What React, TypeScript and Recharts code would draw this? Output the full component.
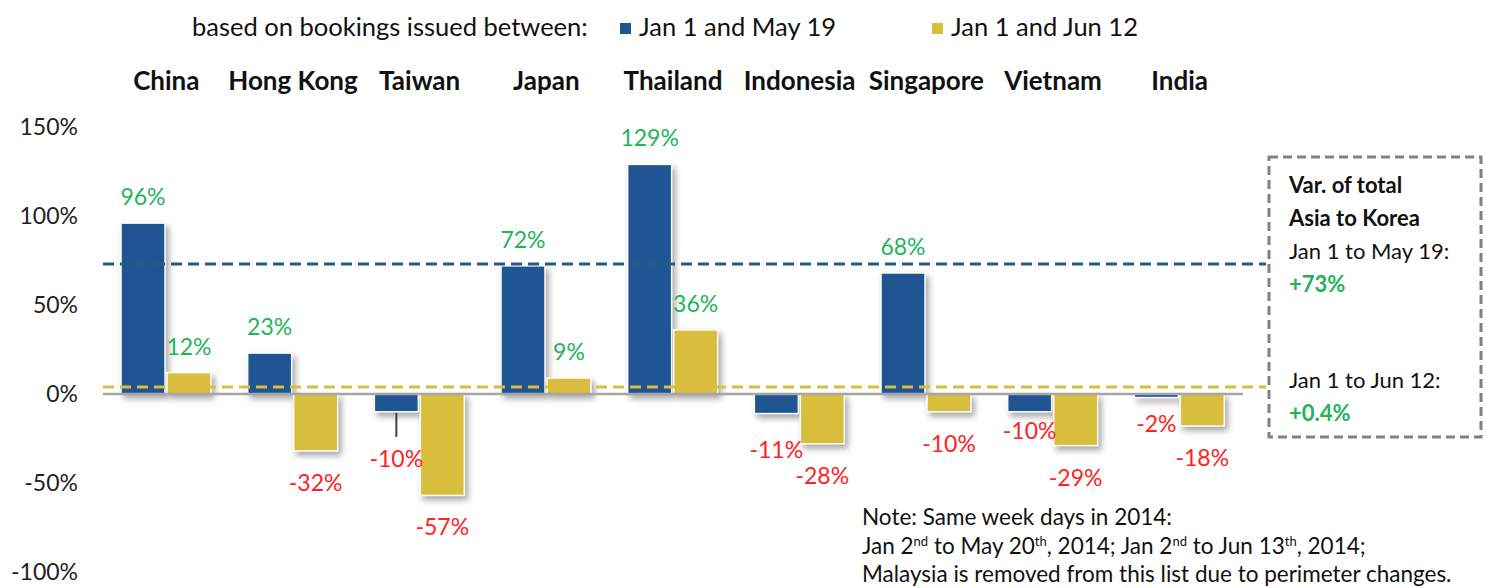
import React from 'react';
import { BarChart, Bar, XAxis, YAxis, ReferenceLine, LabelList } from 'recharts';

const countries = ['China', 'Hong Kong', 'Taiwan', 'Japan', 'Thailand', 'Indonesia', 'Singapore', 'Vietnam', 'India'];
const toMay19 = [96, 23, -10, 72, 129, -11, 68, -10, -2];
const toJun12 = [12, -32, -57, 9, 36, -28, -10, -29, -18];
const yTicks = [-100, -50, 0, 50, 100, 150];
// total Asia -> Korea, as drawn on the chart
const totalMay19 = 73;
const totalJun12 = 4;
const totalLabels = ['+73%', '+0.4%'];

const BLUE = '#1f5592';
const YELLOW = '#d9bd3d';
const GREEN = '#1fb45a';
const RED = '#ff2222';
const FONT = 'Lato, "Noto Sans", sans-serif';

const data = countries.map((country, i) => ({ country, may: toMay19[i], jun: toJun12[i] }));

const CategoryTick = (props: any) => {
  const { x, payload } = props;
  return (
    <text x={x} y={90} textAnchor="middle" fontFamily={FONT} fontSize={26} fontWeight={700} fill="#111">
      {payload.value}
    </text>
  );
};

const ShadowBar = (props: any) => {
  const { x, y, width, height, fill } = props;
  const top = Math.min(y, y + height);
  return (
    <rect
      x={x}
      y={top}
      width={width}
      height={Math.abs(height)}
      fill={fill}
      stroke="#fff"
      strokeWidth={1.5}
      style={{ filter: 'drop-shadow(3px 4px 3px rgba(0,0,0,0.35))' }}
    />
  );
};

const makeLabel = (series: 'may' | 'jun') => (props: any) => {
  const { x, y, width, height, value, index } = props;
  const top = Math.min(y, y + height);
  const bottom = Math.max(y, y + height);
  const cx = x + width / 2;
  const positive = value >= 0;
  let cy = positive ? top - 27 : bottom + 31;
  let leader = null;
  if (series === 'may' && !positive) {
    const name = countries[index];
    if (name === 'Taiwan') {
      cy = bottom + 46;
      leader = <line x1={cx} x2={cx} y1={bottom + 1} y2={bottom + 25} stroke="#404040" strokeWidth={2} />;
    } else if (name === 'Vietnam') cy = bottom + 18;
    else if (name === 'India') cy = bottom + 25;
    else if (name === 'Indonesia') cy = bottom + 35;
  }
  return (
    <g>
      {leader}
      <text
        x={cx}
        y={cy}
        textAnchor="middle"
        dominantBaseline="central"
        fontFamily={FONT}
        fontSize={23}
        fill={positive ? GREEN : RED}
      >
        {`${value}%`}
      </text>
    </g>
  );
};

const longDash = (color: string) => (p: any) => (
  <line x1={p.x1} x2={p.x2 + 23} y1={p.y1} y2={p.y2} stroke={color} strokeWidth={3} strokeDasharray="11 6" />
);

const legendText: React.CSSProperties = { position: 'absolute', top: 11, fontSize: 25.5, whiteSpace: 'nowrap', lineHeight: '30px' };
const sup: React.CSSProperties = { fontSize: 13, lineHeight: 0, verticalAlign: 'super' };

export default function App() {
  return (
    <div style={{ position: 'absolute', left: 0, top: 0, width: 1485, height: 588, background: '#fff', fontFamily: FONT, color: '#111', overflow: 'hidden' }}>
      {/* legend */}
      <div style={{ ...legendText, left: 192 }}>based on bookings issued between:</div>
      <div style={{ position: 'absolute', left: 620, top: 23, width: 11, height: 11, background: BLUE }} />
      <div style={{ ...legendText, left: 639 }}>Jan 1 and May 19</div>
      <div style={{ position: 'absolute', left: 932, top: 23, width: 11, height: 11, background: YELLOW }} />
      <div style={{ ...legendText, left: 951 }}>Jan 1 and Jun 12</div>

      <BarChart width={1485} height={588} data={data} margin={{ top: 87, right: 242, bottom: 16, left: 0 }} barSize={44} barGap={2}>
        <XAxis dataKey="country" orientation="top" height={40} axisLine={false} tickLine={false} interval={0} tick={<CategoryTick />} />
        <YAxis
          domain={[-100, 150]}
          ticks={yTicks}
          tickFormatter={(v: number) => `${v}%`}
          axisLine={false}
          tickLine={false}
          tickSize={0}
          tickMargin={25}
          width={103}
          tick={{ fontFamily: FONT, fontSize: 23, fill: '#222' }}
        />
        <ReferenceLine y={0} stroke="#a6a6a6" strokeWidth={2.5} />
        <Bar dataKey="may" fill={BLUE} shape={<ShadowBar />} isAnimationActive={false}>
          <LabelList dataKey="may" content={makeLabel('may')} />
        </Bar>
        <Bar dataKey="jun" fill={YELLOW} shape={<ShadowBar />} isAnimationActive={false}>
          <LabelList dataKey="jun" content={makeLabel('jun')} />
        </Bar>
        <ReferenceLine y={totalMay19} shape={longDash('#245c7e')} />
        <ReferenceLine y={totalJun12} shape={longDash(YELLOW)} />
      </BarChart>

      {/* summary box */}
      <svg style={{ position: 'absolute', left: 0, top: 0 }} width={1485} height={588} pointerEvents="none">
        <rect x={1269} y={157} width={212} height={280} fill="none" stroke="#808080" strokeWidth={3} strokeDasharray="9 5" />
      </svg>
      <div style={{ position: 'absolute', left: 1289, top: 168, fontSize: 22, lineHeight: '33px', whiteSpace: 'nowrap' }}>
        <div style={{ fontWeight: 700 }}>Var. of total</div>
        <div style={{ fontWeight: 700 }}>Asia to Korea</div>
        <div>Jan 1 to May 19:</div>
        <div style={{ fontWeight: 700, color: GREEN }}>{totalLabels[0]}</div>
      </div>
      <div style={{ position: 'absolute', left: 1289, top: 363, fontSize: 22, lineHeight: '33px', whiteSpace: 'nowrap' }}>
        <div>Jan 1 to Jun 12:</div>
        <div style={{ fontWeight: 700, color: GREEN }}>{totalLabels[1]}</div>
      </div>

      {/* note */}
      <div style={{ position: 'absolute', left: 862, top: 503, fontSize: 22.5, lineHeight: '28.5px', whiteSpace: 'nowrap', color: '#111' }}>
        <div>Note: Same week days in 2014:</div>
        <div>
          Jan 2<sup style={sup}>nd</sup> to May 20<sup style={sup}>th</sup>, 2014; Jan 2<sup style={sup}>nd</sup> to Jun 13
          <sup style={sup}>th</sup>, 2014;
        </div>
        <div>Malaysia is removed from this list due to perimeter changes.</div>
      </div>
    </div>
  );
}
